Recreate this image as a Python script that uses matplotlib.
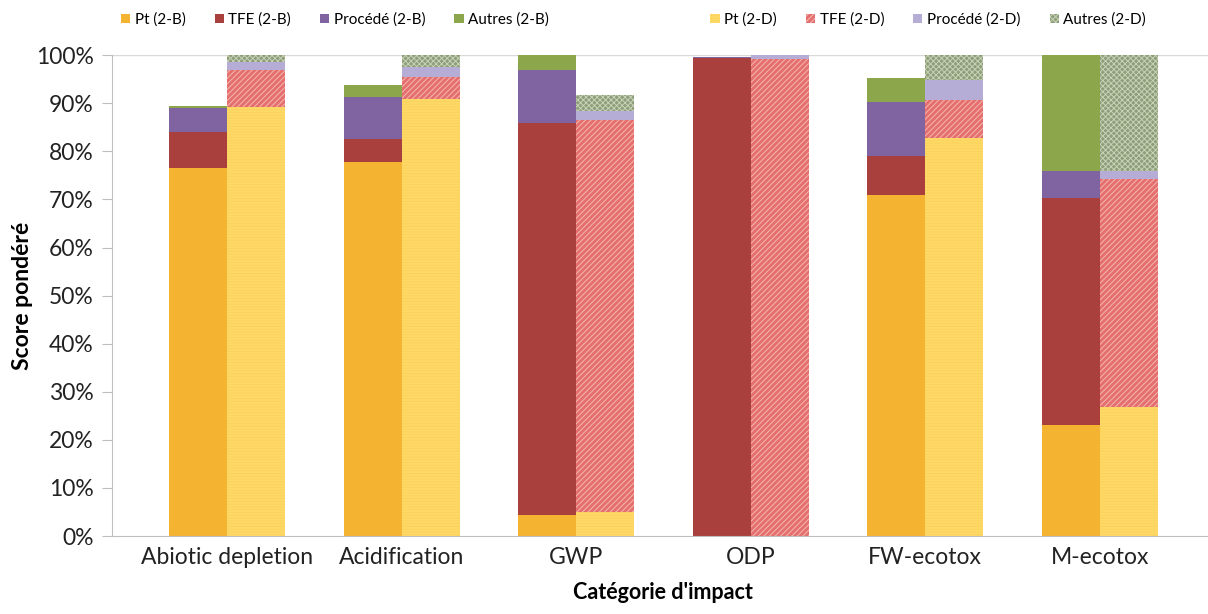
import numpy as np
import matplotlib.pyplot as plt

plt.rcParams['font.family'] = ['Lato', 'DejaVu Sans']
plt.rcParams['hatch.linewidth'] = 0.7

categories = ['Abiotic depletion', 'Acidification', 'GWP', 'ODP', 'FW-ecotox', 'M-ecotox']

# parts de chaque contributeur (%), scenario 2-B
pt_b = [76.5, 77.7, 4.3, 0.0, 71.0, 23.0]
tfe_b = [7.5, 4.8, 81.7, 99.5, 8.0, 47.3]
proc_b = [5.0, 8.8, 11.0, 0.1, 11.2, 5.7]
autres_b = [0.5, 2.5, 3.0, 0.0, 5.1, 24.0]

# scenario 2-D
pt_d = [89.2, 90.8, 5.0, 0.0, 82.8, 26.8]
tfe_d = [7.8, 4.7, 81.5, 99.3, 7.8, 47.4]
proc_d = [1.5, 2.0, 2.0, 0.7, 4.2, 1.8]
autres_d = [1.5, 2.5, 3.3, 0.0, 5.2, 24.0]

series_b = [
    ('Pt (2-B)', pt_b, '#F4B431', None, 'none'),
    ('TFE (2-B)', tfe_b, '#A9403E', None, 'none'),
    ('Procédé (2-B)', proc_b, '#8064A2', None, 'none'),
    ('Autres (2-B)', autres_b, '#8BA64B', None, 'none'),
]
series_d = [
    ('Pt (2-D)', pt_d, '#FFD966', '------', '#FBD25E'),
    ('TFE (2-D)', tfe_d, '#E56F6F', '//////', '#F4B8B0'),
    ('Procédé (2-D)', proc_d, '#B6ADD6', None, 'none'),
    ('Autres (2-D)', autres_d, '#8E9E78', 'xxxxxx', '#C7D2B8'),
]

x = np.arange(len(categories))
w = 0.332

fig = plt.figure(figsize=(12.08, 6.14), dpi=100)
# l'axe depasse a droite comme dans l'original (image rognee)
ax = fig.add_axes([0.0927, 0.127, 0.913, 0.783])

hb = []
bottom = np.zeros(len(categories))
for name, vals, col, hatch, hcol in series_b:
    b = ax.bar(x - w / 2, vals, w, bottom=bottom, color=col, label=name, linewidth=0)
    hb.append(b)
    bottom += np.array(vals)

hd = []
bottom = np.zeros(len(categories))
for name, vals, col, hatch, hcol in series_d:
    b = ax.bar(x + w / 2, vals, w, bottom=bottom, facecolor=col, label=name,
               hatch=hatch, edgecolor=hcol, linewidth=0)
    hd.append(b)
    bottom += np.array(vals)

ax.set_xlim(-0.66, 5.66)
ax.set_ylim(0, 100)
ax.set_yticks(np.arange(0, 101, 10))
ax.set_yticklabels([f'{v}%' for v in range(0, 101, 10)], fontsize=16.5, color='#222222')
ax.set_xticks(x)
ax.set_xticklabels(categories, fontsize=16.5, color='#222222')
ax.tick_params(axis='y', length=7, color='#BFBFBF', pad=6)
ax.tick_params(axis='x', length=0, pad=8)
ax.axhline(100, color='#D9D9D9', lw=1, zorder=0)

for s in ['top', 'right']:
    ax.spines[s].set_visible(False)
ax.spines['bottom'].set_color('#BFBFBF')
ax.spines['left'].set_color('#BFBFBF')

ax.set_ylabel('Score pondéré', fontsize=16.5, fontweight='bold')
ax.yaxis.set_label_coords(-0.0716, 0.5)
ax.set_xlabel("Catégorie d'impact", fontsize=15.5, fontweight='bold')
ax.xaxis.set_label_coords(0.5, -0.095)

opts = dict(ncol=4, frameon=False, fontsize=11, handlelength=0.6, handleheight=0.6,
            handletextpad=0.3, columnspacing=1.9, borderaxespad=0)
leg1 = fig.legend(handles=hb, loc='center left', bbox_to_anchor=(0.095, 0.968), **opts)
leg2 = fig.legend(handles=hd, loc='center left', bbox_to_anchor=(0.583, 0.968), **opts)

fig.savefig('out.png', dpi=100)
